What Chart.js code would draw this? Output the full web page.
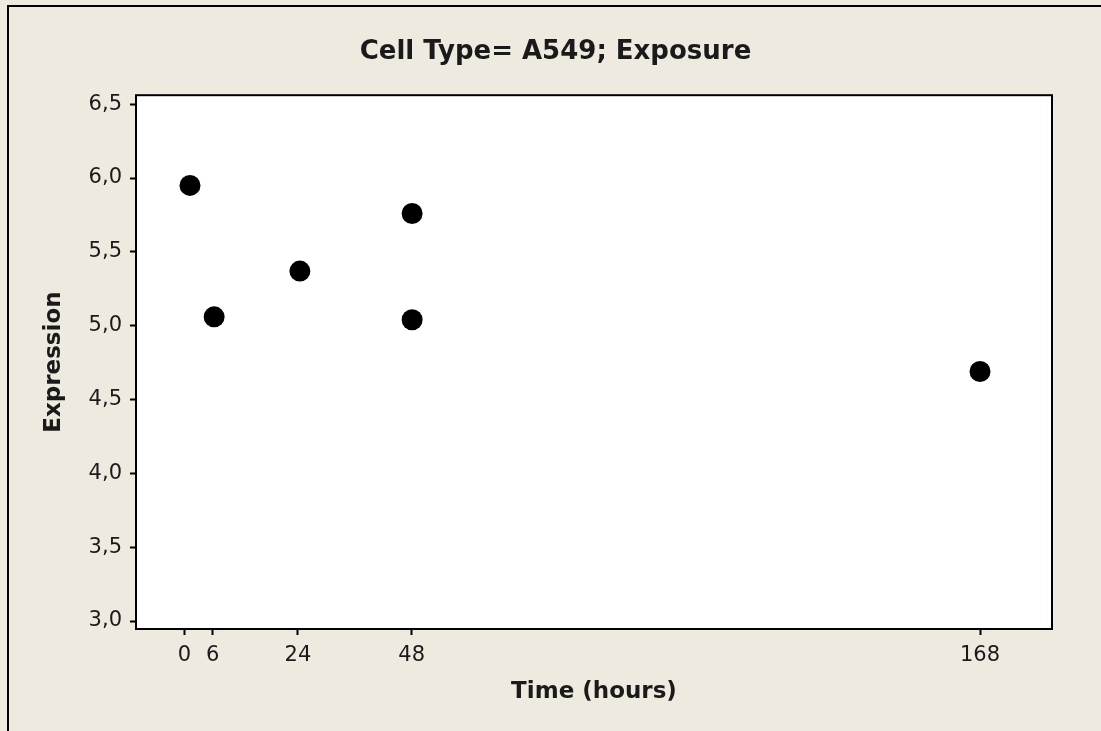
<!DOCTYPE html>
<html>
<head>
<meta charset="utf-8">
<title>Cell Type= A549; Exposure</title>
<script src="https://cdn.jsdelivr.net/npm/chart.js@4/dist/chart.umd.min.js"></script>
<style>
  html, body { margin: 0; padding: 0; background: #EEEAE0; }
  #wrap { width: 1101px; height: 731px; position: relative; }
</style>
</head>
<body>
<div id="wrap"><canvas id="chart" width="1101" height="731"></canvas></div>
<script>
// Measured expression per sampling time (hours)
const timeHours = [1.2, 6.3, 24.4, 48.1, 48.1, 168];
const expression = [5.95, 5.06, 5.37, 5.76, 5.04, 4.69];
const timeTicks = [0, 6, 24, 48, 168];
const expressionTicks = [3.0, 3.5, 4.0, 4.5, 5.0, 5.5, 6.0, 6.5];

const INK = '#1a1a1a';
const PAPER = '#EEEAE0';

// Beige page with a frame on the left and top edges, white plot panel with a black box
const panelPlugin = {
  id: 'panel',
  beforeDraw(chart) {
    const { ctx, chartArea: a } = chart;
    ctx.save();
    ctx.fillStyle = PAPER;
    ctx.fillRect(0, 0, chart.width, chart.height);
    ctx.strokeStyle = '#000';
    ctx.lineWidth = 2;
    ctx.beginPath();
    ctx.moveTo(8, chart.height);
    ctx.lineTo(8, 6);
    ctx.lineTo(chart.width, 6);
    ctx.stroke();
    ctx.fillStyle = '#ffffff';
    ctx.fillRect(a.left, a.top, a.right - a.left, a.bottom - a.top);
    ctx.restore();
  },
  afterDraw(chart) {
    const { ctx, chartArea: a } = chart;
    ctx.save();
    ctx.strokeStyle = '#000';
    ctx.lineWidth = 2;
    ctx.strokeRect(a.left, a.top, a.right - a.left, a.bottom - a.top);
    ctx.restore();
  }
};

const data = {
  datasets: [{
    label: 'Expression',
    data: timeHours.map((t, i) => ({ x: t, y: expression[i] })),
    backgroundColor: '#000',
    borderColor: '#000',
    borderWidth: 0,
    pointRadius: 10.5,
    pointHoverRadius: 10.5
  }]
};

new Chart(document.getElementById('chart'), {
  type: 'scatter',
  data,
  plugins: [panelPlugin],
  options: {
    responsive: false,
    animation: false,
    events: [],
    layout: { padding: { left: 10, right: 0, top: 0, bottom: 0 } },
    plugins: {
      legend: { display: false },
      tooltip: { enabled: false },
      title: {
        display: true,
        text: 'Cell Type= A549; Exposure',
        color: INK,
        font: { family: 'DejaVu Sans', size: 26, weight: 'bold' },
        padding: { top: 37, bottom: 27 }
      }
    },
    scales: {
      x: {
        type: 'linear',
        min: -10.2,
        max: 183.2,
        afterFit(scale) { scale.height = 102; },
        afterBuildTicks(scale) { scale.ticks = timeTicks.map(v => ({ value: v })); },
        border: { display: false },
        grid: { drawOnChartArea: false, drawTicks: true, tickLength: 6, tickWidth: 2, tickColor: '#000' },
        ticks: {
          color: INK,
          padding: 8,
          maxRotation: 0,
          font: { family: 'DejaVu Sans', size: 21 },
          callback: v => String(v)
        },
        title: {
          display: true,
          text: 'Time (hours)',
          color: INK,
          font: { family: 'DejaVu Sans', size: 23, weight: 'bold' },
          padding: { top: 0, bottom: 25 }
        }
      },
      y: {
        type: 'linear',
        min: 2.946,
        max: 6.561,
        afterFit(scale) { scale.width = 126; },
        afterBuildTicks(scale) { scale.ticks = expressionTicks.map(v => ({ value: v })); },
        border: { display: false },
        grid: { drawOnChartArea: false, drawTicks: true, tickLength: 6, tickWidth: 2, tickColor: '#000' },
        ticks: {
          color: INK,
          padding: 8,
          font: { family: 'DejaVu Sans', size: 21 },
          callback: v => v.toFixed(1).replace('.', ',')
        },
        title: {
          display: true,
          text: 'Expression',
          color: INK,
          font: { family: 'DejaVu Sans', size: 23, weight: 'bold' },
          padding: { top: 30, bottom: 0 }
        }
      },
      // Empty right-hand margin strip beside the plot panel
      margin: {
        type: 'linear',
        position: 'right',
        min: 0,
        max: 1,
        afterFit(scale) { scale.width = 49; },
        border: { display: false },
        grid: { display: false },
        ticks: { display: false }
      }
    }
  }
});
</script>
</body>
</html>
